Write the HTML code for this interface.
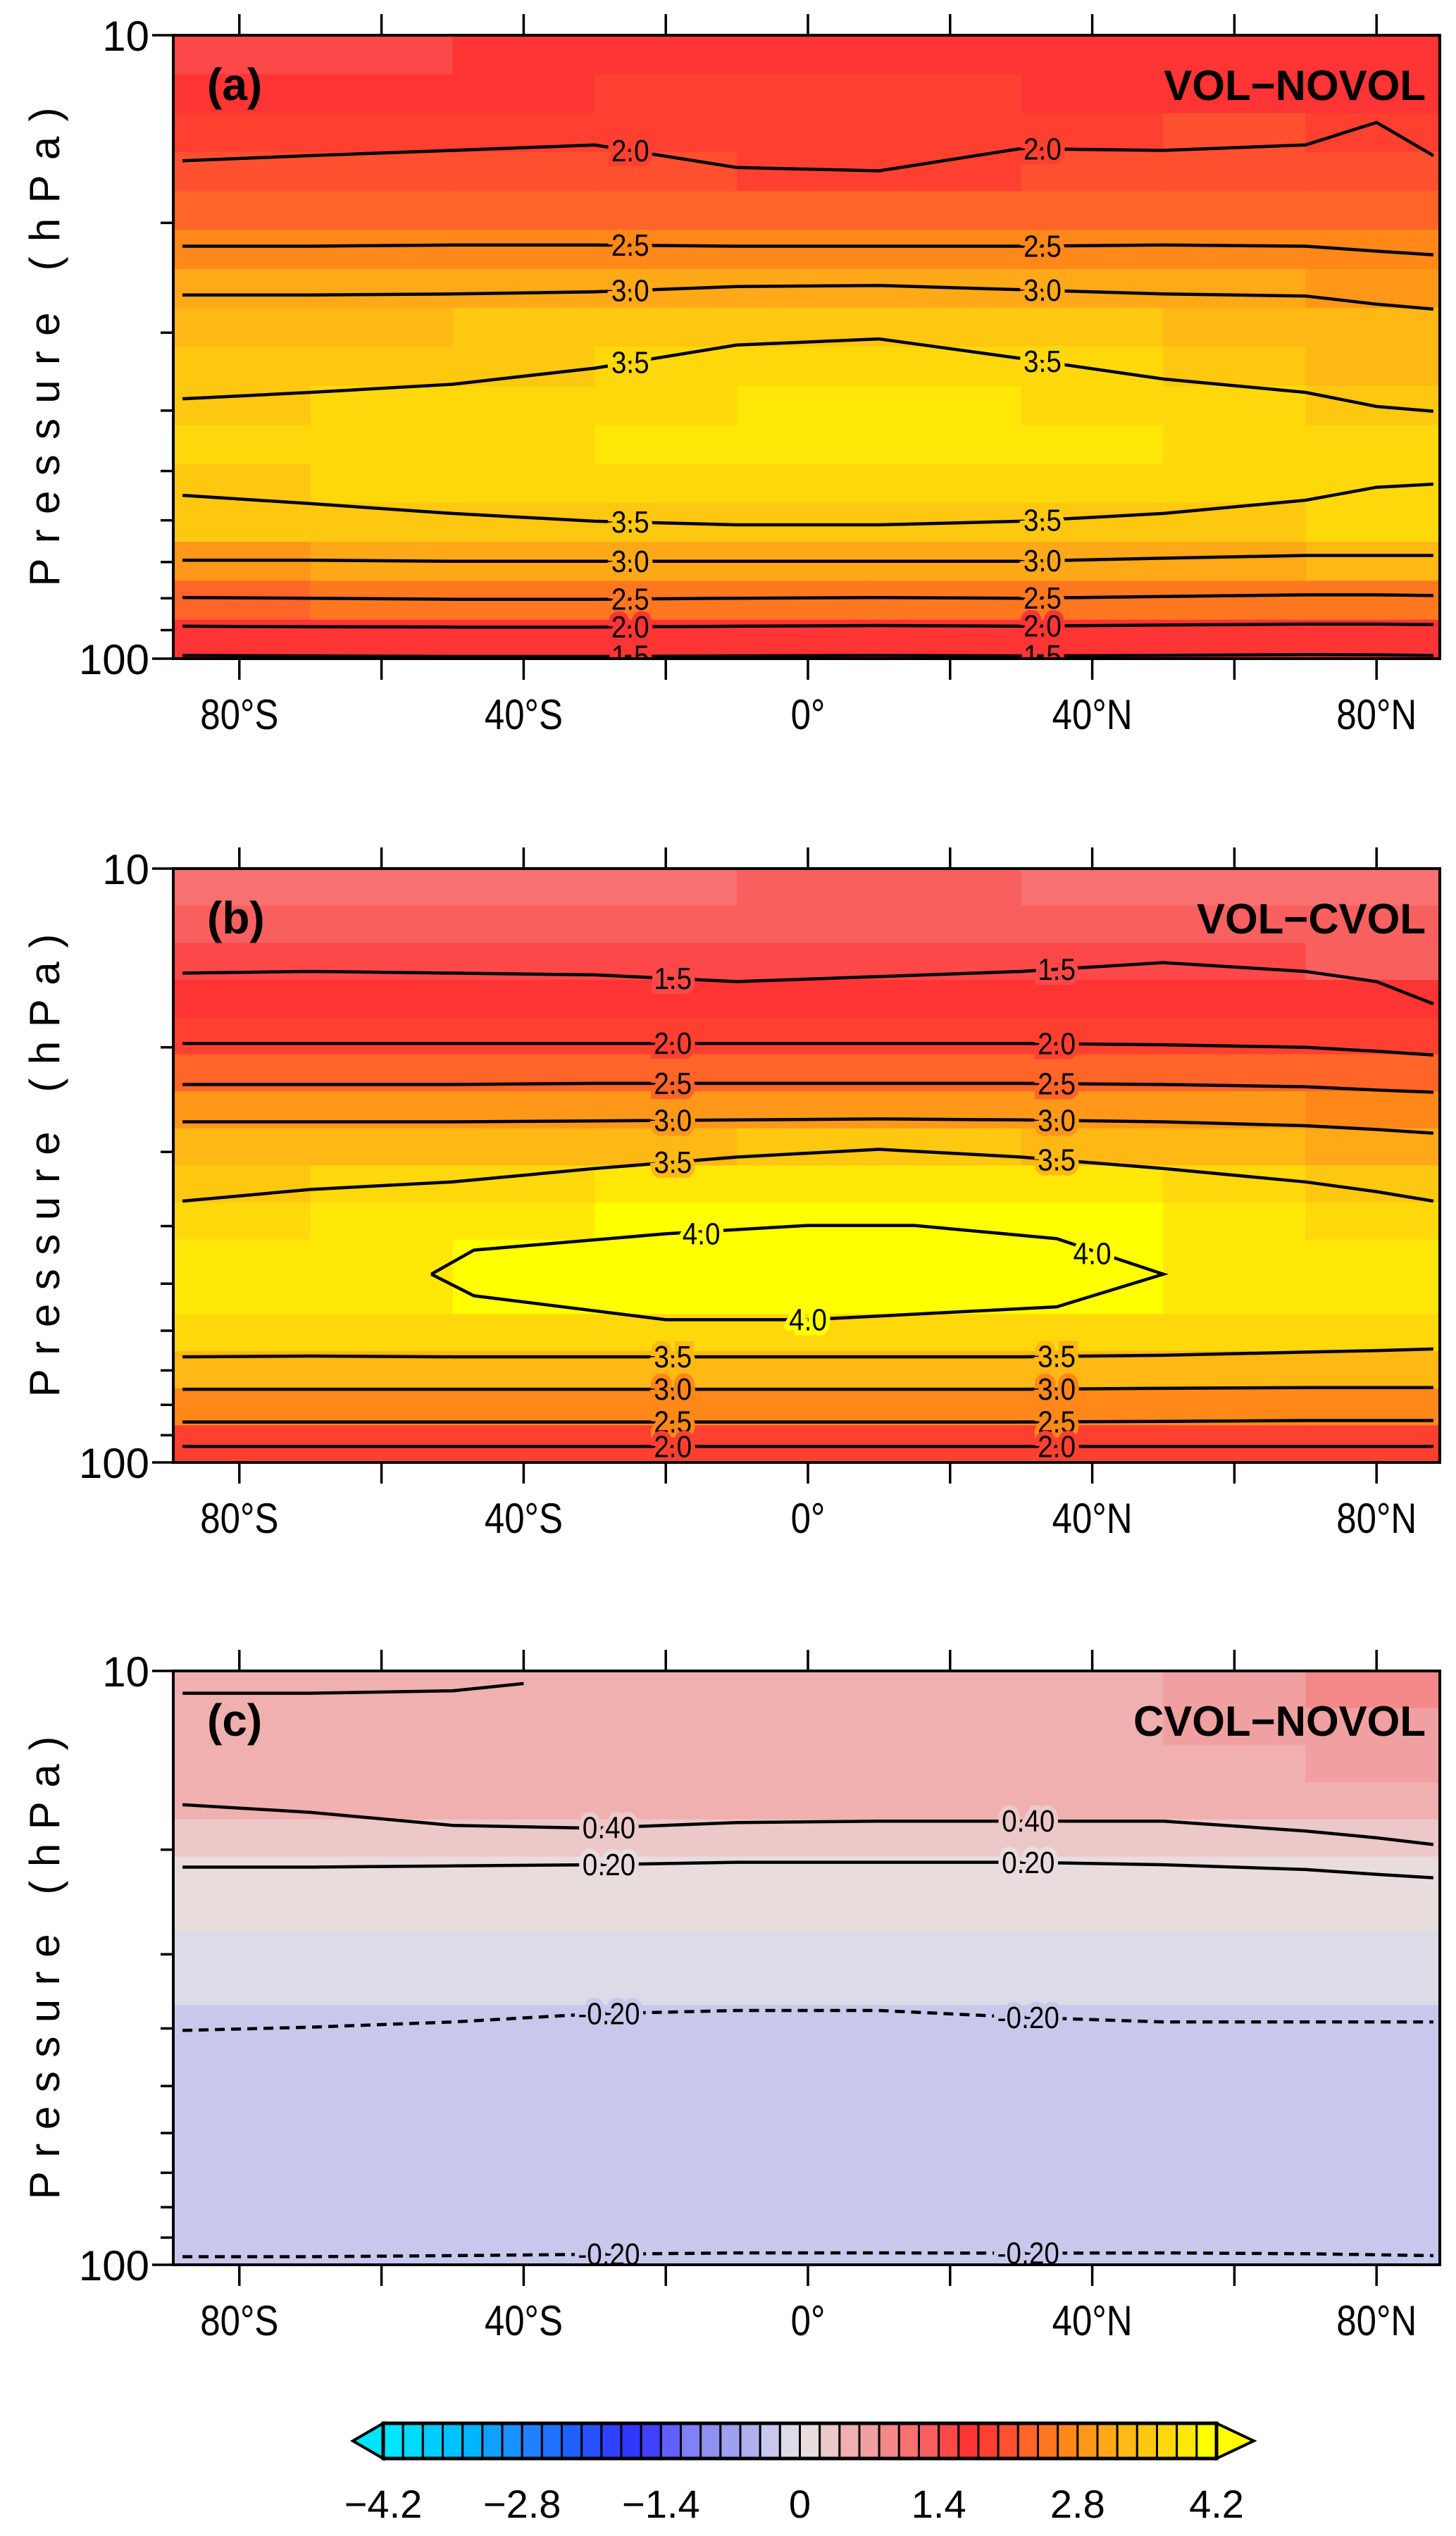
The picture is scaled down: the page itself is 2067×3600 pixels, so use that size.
<!DOCTYPE html>
<html><head><meta charset="utf-8"><style>
html,body{margin:0;padding:0;background:#fff;}
svg{display:block;}
text{font-family:"Liberation Sans",sans-serif;}
</style></head><body>
<svg id="fig" width="2067" height="3600" viewBox="0 0 2067 3600" xmlns="http://www.w3.org/2000/svg"></svg>
<script>
// ---- data ----
const latBins = [-90,-70,-50,-30,-10,10,30,50,70,90];
const rowCount = 16;
const gridA = [
[1.5,1.5,1.6,1.7,1.7,1.7,1.6,1.7,1.7],
[1.7,1.7,1.7,1.8,1.8,1.8,1.7,1.7,1.7],
[1.9,1.9,1.9,1.9,1.8,1.8,1.9,2.0,1.9],
[2.1,2.1,2.1,2.0,1.9,1.9,2.0,2.1,2.1],
[2.3,2.3,2.3,2.3,2.2,2.2,2.3,2.3,2.2],
[2.7,2.7,2.7,2.7,2.6,2.6,2.7,2.7,2.6],
[3.0,3.0,3.1,3.1,3.1,3.1,3.1,3.0,2.9],
[3.3,3.3,3.4,3.4,3.5,3.5,3.4,3.3,3.2],
[3.4,3.5,3.5,3.6,3.7,3.7,3.6,3.5,3.3],
[3.5,3.6,3.6,3.7,3.8,3.8,3.7,3.6,3.5],
[3.6,3.7,3.7,3.8,3.9,3.9,3.8,3.7,3.6],
[3.5,3.6,3.7,3.7,3.7,3.7,3.7,3.6,3.6],
[3.4,3.4,3.5,3.5,3.5,3.5,3.5,3.5,3.6],
[2.9,3.0,3.0,3.0,3.0,3.0,3.1,3.1,3.2],
[2.3,2.4,2.4,2.4,2.4,2.4,2.4,2.5,2.5],
[1.6,1.6,1.6,1.6,1.6,1.6,1.6,1.6,1.6]];
const gridB = [
[1.0,1.0,1.1,1.1,1.2,1.2,1.1,1.0,1.1],
[1.2,1.2,1.2,1.3,1.3,1.3,1.2,1.2,1.2],
[1.4,1.4,1.4,1.4,1.4,1.4,1.4,1.4,1.3],
[1.7,1.7,1.7,1.7,1.7,1.7,1.7,1.7,1.6],
[1.9,1.9,1.9,1.9,1.9,1.9,1.9,1.9,1.8],
[2.3,2.3,2.3,2.3,2.3,2.3,2.3,2.3,2.2],
[2.8,2.8,2.8,2.8,2.8,2.8,2.8,2.8,2.7],
[3.2,3.2,3.3,3.3,3.4,3.4,3.3,3.2,3.1],
[3.5,3.6,3.7,3.8,3.8,3.8,3.8,3.7,3.5],
[3.7,3.8,3.9,4.0,4.1,4.1,4.0,3.9,3.7],
[3.8,3.9,4.0,4.1,4.2,4.2,4.1,3.9,3.8],
[3.8,3.9,4.0,4.1,4.1,4.1,4.0,3.9,3.8],
[3.6,3.6,3.7,3.7,3.7,3.7,3.7,3.6,3.6],
[3.2,3.2,3.2,3.2,3.2,3.2,3.2,3.2,3.3],
[2.6,2.6,2.6,2.6,2.7,2.7,2.6,2.6,2.6],
[1.8,1.8,1.8,1.8,1.8,1.8,1.8,1.8,1.8]];
const gridC = [
[0.5,0.5,0.5,0.5,0.5,0.5,0.5,0.7,0.9],
[0.5,0.5,0.5,0.5,0.5,0.5,0.5,0.6,0.7],
[0.5,0.5,0.5,0.5,0.5,0.5,0.5,0.5,0.6],
[0.45,0.45,0.45,0.45,0.45,0.45,0.45,0.45,0.45],
[0.3,0.3,0.3,0.3,0.3,0.3,0.3,0.3,0.3],
[0.1,0.1,0.1,0.1,0.1,0.1,0.1,0.1,0.1],
[0.1,0.1,0.1,0.1,0.1,0.1,0.1,0.1,0.1],
[-0.1,-0.1,-0.1,-0.1,-0.1,-0.1,-0.1,-0.1,-0.1],
[-0.1,-0.1,-0.1,-0.1,-0.1,-0.1,-0.1,-0.1,-0.1],
[-0.3,-0.3,-0.3,-0.3,-0.3,-0.3,-0.3,-0.3,-0.3],
[-0.3,-0.3,-0.3,-0.3,-0.3,-0.3,-0.3,-0.3,-0.3],
[-0.3,-0.3,-0.3,-0.3,-0.3,-0.3,-0.3,-0.3,-0.3],
[-0.3,-0.3,-0.3,-0.3,-0.3,-0.3,-0.3,-0.3,-0.3],
[-0.3,-0.3,-0.3,-0.3,-0.3,-0.3,-0.3,-0.3,-0.3],
[-0.3,-0.3,-0.3,-0.3,-0.3,-0.3,-0.3,-0.3,-0.3],
[-0.3,-0.3,-0.3,-0.3,-0.3,-0.3,-0.3,-0.3,-0.3]];
const contourLats = [-88,-70,-50,-30,-10,10,30,50,70,80,88];
const contoursA = [
 {v:"2.0", p:[15.9,15.6,15.3,15.0,16.3,16.5,15.2,15.3,15.0,13.8,15.6], labels:[-25,33]},
 {v:"2.5", p:[21.8,21.8,21.7,21.7,21.8,21.8,21.8,21.7,21.8,22.2,22.5], labels:[-25,33]},
 {v:"3.0", p:[26.1,26.1,26.0,25.8,25.3,25.2,25.6,26.0,26.2,27.0,27.5], labels:[-25,33]},
 {v:"3.5", p:[38.3,37.4,36.3,34.2,31.4,30.7,33.0,35.6,37.4,39.4,40.1], labels:[-25,33]},
 {v:"3.5", p:[54.7,56.4,58.5,60.2,61.0,61.0,60.2,58.5,55.7,53.1,52.5], labels:[-25,33]},
 {v:"3.0", p:[69.5,69.5,69.8,69.8,69.8,69.8,69.8,69.0,68.3,68.3,68.3], labels:[-25,33]},
 {v:"2.5", p:[79.8,80.0,80.3,80.3,80.0,79.8,80.0,79.5,79.0,79.0,79.2], labels:[-25,33]},
 {v:"2.0", p:[88.7,88.9,89.0,89.0,88.7,88.5,88.7,88.3,88.0,88.0,88.2], labels:[-25,33]},
 {v:"1.5", p:[98.8,99.0,99.2,99.2,99.0,98.8,99.0,98.8,98.5,98.6,98.8], labels:[-25,33]}];
const contoursB = [
 {v:"1.5", p:[15.0,14.9,15.0,15.1,15.5,15.2,14.9,14.4,14.9,15.5,16.9], labels:[-19,35]},
 {v:"2.0", p:[19.7,19.7,19.7,19.7,19.7,19.7,19.7,19.8,20.0,20.3,20.6], labels:[-19,35]},
 {v:"2.5", p:[23.1,23.1,23.1,23.0,23.0,23.0,23.0,23.1,23.3,23.6,23.8], labels:[-19,35]},
 {v:"3.0", p:[26.7,26.7,26.7,26.6,26.5,26.4,26.5,26.7,27.1,27.5,27.9], labels:[-19,35]},
 {v:"3.5", p:[36.3,34.7,33.7,32.0,30.6,29.7,30.6,32.0,33.7,35.0,36.3], labels:[-19,35]},
 {v:"3.5", p:[66.4,66.2,66.4,66.4,66.4,66.4,66.4,66.0,65.2,64.8,64.4], labels:[-19,35]},
 {v:"3.0", p:[75.3,75.3,75.3,75.3,75.3,75.3,75.3,75.0,74.8,74.8,74.8], labels:[-19,35]},
 {v:"2.5", p:[85.5,85.5,85.5,85.5,85.5,85.5,85.5,85.3,85.0,85.0,85.0], labels:[-19,35]},
 {v:"2.0", p:[94.0,94.0,94.0,94.0,94.0,94.0,94.0,94.0,94.0,94.0,94.0], labels:[-19,35]}];
const loopLatB = [-53,-47,-20,0,15,35,50,35,0,-20,-47,-53];
const loopPB = [48.2,43.9,41.2,39.9,39.9,42.0,48.2,54.7,57.5,57.5,52.4,48.2];
const contoursC = [
 {v:"0.40", p:[16.8,17.3,18.2,18.4,18.0,17.9,17.9,17.9,18.6,19.1,19.6], labels:[-28,31]},
 {v:"0.20", p:[21.4,21.4,21.3,21.2,21.0,21.0,21.0,21.2,21.6,22.0,22.3], labels:[-28,31]},
 {v:"-0.20", p:[40.3,39.8,39.0,37.8,37.3,37.3,38.3,39.0,39.0,39.0,39.0], labels:[-28,31], dash:true},
 {v:"-0.20", p:[96.9,96.9,96.5,96.0,95.5,95.5,95.6,95.5,95.8,96.2,96.5], labels:[-28,31], dash:true}];
const topLatC = [-88,-70,-50,-40];
const topPC = [10.9,10.9,10.8,10.5];
const cbTicks = [-4.2,-2.8,-1.4,0,1.4,2.8,4.2];
const cbLabels = ["\u22124.2","\u22122.8","\u22121.4","0","1.4","2.8","4.2"];
const xTickLats = [-80,-60,-40,-20,0,20,40,60,80];
const xTickLabels = {"-80":"80°S","-40":"40°S","0":"0°","40":"40°N","80":"80°N"};
const pTicks = [10,20,30,40,50,60,70,80,90,100];

// ---- style ----
const binColors = ["#00e5ff","#00dcff","#00ccff","#00c0ff","#00b4ff","#10a0ff","#1890ff","#2080ff","#2070ff","#2060ff","#2850ff","#3040ff","#3038ff","#4040ff","#6060ff","#8080f8","#9090f0","#a0a0f0","#b0b0ee","#c8c8ec","#dcdce8","#e8dcdc","#ecc8c8","#f0b0b0","#f0a0a0","#f48888","#f87070","#f86060","#fc4848","#ff3434","#ff4030","#ff5030","#ff6428","#ff7820","#ff8818","#ff9818","#ffa818","#ffb814","#ffc810","#ffd80c","#ffe808","#ffff00"];
function colorOf(v){let k=Math.floor((v+4.2)/0.2+1e-6);k=Math.max(0,Math.min(41,k));return binColors[k];}

const NS="http://www.w3.org/2000/svg";
const svg=document.getElementById('fig');
function mk(tag,attrs,parent){const e=document.createElementNS(NS,tag);for(const k in attrs)e.setAttribute(k,attrs[k]);(parent||svg).appendChild(e);return e;}

const X0=246,X1=2044;
function xOf(lat){return 1147+lat*10.09;}
function interpP(c,lat){for(let i=0;i<contourLats.length-1;i++){if(lat>=contourLats[i]&&lat<=contourLats[i+1]){const t=(lat-contourLats[i])/(contourLats[i+1]-contourLats[i]);return Math.exp(Math.log(c.p[i])*(1-t)+Math.log(c.p[i+1])*t);}}return c.p[0];}

function panel(id,top,h,grid,contours,tag,title){
  const g=mk('g',{});
  
  
  const yOf=p=>top+(Math.log10(p)-1)*h;
  const clip=mk('clipPath',{id:'clip'+id},g);
  mk('rect',{x:X0,y:top,width:X1-X0,height:h},clip);
  const cells=mk('g',{'clip-path':'url(#clip'+id+')'},g);
  
  
  for(let r=0;r<rowCount;r++){
    const yA=top+r*h/rowCount, yB=top+(r+1)*h/rowCount;
    for(let c=0;c<latBins.length-1;c++){
      const xa=Math.max(X0,xOf(latBins[c])), xb=Math.min(X1,xOf(latBins[c+1]));
      const cell=mk('rect',{x:xa,y:yA,width:xb-xa+0.6,height:yB-yA+0.6,fill:colorOf(grid[r][c])},cells);
      
      
    }
  }
  function cellColorAt(lat,p){const r=Math.max(0,Math.min(rowCount-1,Math.floor((Math.log10(p)-1)*rowCount)));let c=0;for(let i=0;i<latBins.length-1;i++)if(lat>=latBins[i])c=i;return colorOf(grid[r][Math.min(c,8)]);}
  const lines=mk('g',{'clip-path':'url(#clip'+id+')'},g);
  contours.forEach(ct=>{
    const pts=contourLats.map((lat,i)=>xOf(lat).toFixed(1)+','+yOf(ct.p[i]).toFixed(1)).join(' ');
    const pl=mk('polyline',{points:pts,fill:'none',stroke:'#000','stroke-width':4.5,'stroke-dasharray':ct.dash?'14 9':'none'},lines);
    
    
    ct.labels.forEach(lat=>{
      const p=interpP(ct,lat);
      const x=xOf(lat);
      const t=mk('text',{x:x,y:yOf(p)+15,'font-size':44,'text-anchor':'middle',fill:'#000',stroke:cellColorAt(lat,p),'stroke-width':14,'paint-order':'stroke',transform:'translate('+x+',0) scale(0.88,1) translate('+(-x)+',0)'},lines);
      t.textContent=ct.v;
      
      
    });
  });
  const fr=mk('rect',{x:X0,y:top,width:X1-X0,height:h,fill:'none',stroke:'#000','stroke-width':4},g);
  
  
  xTickLats.forEach(lat=>{
    const x=xOf(lat);
    mk('line',{x1:x,y1:top+h,x2:x,y2:top+h+30,stroke:'#000','stroke-width':3.5},g);
    mk('line',{x1:x,y1:top,x2:x,y2:top-30,stroke:'#000','stroke-width':3.5},g);
    if(xTickLabels[String(lat)]){
      const t=mk('text',{x:x,y:top+h+100,'font-size':60,'text-anchor':'middle',transform:'translate('+x+',0) scale(0.85,1) translate('+(-x)+',0)'},g);
      t.textContent=xTickLabels[String(lat)];
      
      
    }
  });
  pTicks.forEach(p=>{
    const y=yOf(p);const major=(p===10||p===100);
    mk('line',{x1:X0,y1:y,x2:X0-(major?30:18),y2:y,stroke:'#000','stroke-width':3.5},g);
    if(major){
      const t=mk('text',{x:212,y:y+22,'font-size':60,'text-anchor':'end'},g);
      t.textContent=String(p);
      
      
    }
  });
  const yt=mk('text',{x:0,y:0,'font-size':60,'text-anchor':'middle',transform:'translate(84,'+(top+h/2)+') rotate(-90)',textLength:Math.min(680,h*0.78),lengthAdjust:'spacing'},g);
  yt.textContent='Pressure (hPa)';
  
  
  const tg=mk('text',{x:294,y:top+92,'font-size':64,'font-weight':'bold'},g);
  tg.textContent=tag;
  
  
  const tt=mk('text',{x:2024,y:top+92,'font-size':60,'font-weight':'bold','text-anchor':'end'},g);
  tt.textContent=title;
  
  
  return {g,yOf,lines};
}

panel('a',50,885,gridA,contoursA,'(a)','VOL\u2212NOVOL');
const pb=panel('b',1233,843,gridB,contoursB,'(b)','VOL\u2212CVOL');
const loop=mk('polyline',{points:loopLatB.map((lat,i)=>xOf(lat).toFixed(1)+','+pb.yOf(loopPB[i]).toFixed(1)).join(' '),fill:'none',stroke:'#000','stroke-width':4.5},pb.lines);


[[-15,41.2],[0,57.5],[40,44.5]].forEach(([lat,p])=>{
  const x=xOf(lat);
  const t=mk('text',{x:x,y:pb.yOf(p)+15,'font-size':44,'text-anchor':'middle',fill:'#000',stroke:'#ffff00','stroke-width':14,'paint-order':'stroke',transform:'translate('+x+',0) scale(0.88,1) translate('+(-x)+',0)'},pb.lines);
  t.textContent='4.0';
  
  
});
const pc=panel('c',2372,843,gridC,contoursC,'(c)','CVOL\u2212NOVOL');
const tl=mk('polyline',{points:topLatC.map((lat,i)=>xOf(lat).toFixed(1)+','+pc.yOf(topPC[i]).toFixed(1)).join(' '),fill:'none',stroke:'#000','stroke-width':4.5},pc.lines);



// colorbar
const cb=mk('g',{});


const CB0=544,CB1=1727,CBY=3440,CBH=50,bw=(CB1-CB0)/42;
mk('polygon',{points:`${CB0},${CBY} ${CB0},${CBY+CBH} 501,${CBY+CBH/2}`,fill:'#00e5ff',stroke:'#000','stroke-width':4},cb);
mk('polygon',{points:`${CB1},${CBY} ${CB1},${CBY+CBH} 1780,${CBY+CBH/2}`,fill:'#ffff00',stroke:'#000','stroke-width':4},cb);
binColors.forEach((c,i)=>{
  const r=mk('rect',{x:CB0+i*bw,y:CBY,width:bw,height:CBH,fill:c,stroke:'#000','stroke-width':3},cb);
  
  
});
mk('rect',{x:CB0,y:CBY,width:CB1-CB0,height:CBH,fill:'none',stroke:'#000','stroke-width':5},cb);
cbTicks.forEach((v,i)=>{
  const x=CB0+(v+4.2)/8.4*(CB1-CB0);
  const t=mk('text',{x:x,y:3574,'font-size':56,'text-anchor':'middle'},cb);
  t.textContent=cbLabels[i];
  
  
});
</script>
</body></html>
